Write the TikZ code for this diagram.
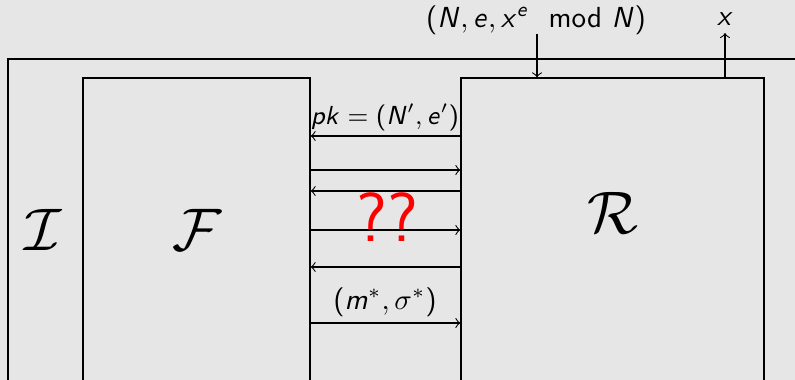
\documentclass[tikz,border=0pt]{standalone}
\usepackage{amsmath}
\usetikzlibrary{fit}
\DeclareSymbolFont{sfit}{OT1}{cmss}{m}{sl}
\DeclareSymbolFont{operators}{OT1}{cmss}{m}{n}
\DeclareMathSymbol{N}{\mathalpha}{sfit}{`N}
\DeclareMathSymbol{e}{\mathalpha}{sfit}{`e}
\DeclareMathSymbol{x}{\mathalpha}{sfit}{`x}
\DeclareMathSymbol{p}{\mathalpha}{sfit}{`p}
\DeclareMathSymbol{k}{\mathalpha}{sfit}{`k}
\DeclareMathSymbol{m}{\mathalpha}{sfit}{`m}
\definecolor{bg}{RGB}{230,230,230}
\tikzset{
  boxframe/.style={draw, inner sep=0pt},
  lbl/.style={inner sep=1pt, font=\fontsize{9.6}{11}\selectfont},
  biglbl/.style={inner sep=0pt, font=\fontsize{20.5}{25}\selectfont},
}
\begin{document}
\begin{tikzpicture}[x=0.345pt,y=-0.345pt, line width=0.37pt, >=to]
\fill[bg] (0,0) rectangle (795,380);
\useasboundingbox (0,0) rectangle (795,380);
\begin{scope}
\clip (0,0) rectangle (795,380);
\node[boxframe, fit={(8,59) (830,420)}] (I) {};
\node[boxframe, fit={(83,78) (310,420)}] (F) {};
\node[boxframe, fit={(461,78) (764,420)}] (R) {};
\end{scope}
\node[biglbl] (Il) at (43,230) {$\mathcal{I}$};
\node[biglbl] (Fl) at (197,230) {$\mathcal{F}$};
\node[biglbl] (Rl) at (613,213) {$\mathcal{R}$};
% levels
\coordinate (l1) at (385,136);
\coordinate (l2) at (385,170);
\coordinate (l3) at (385,191);
\coordinate (l4) at (385,230);
\coordinate (l5) at (385,267);
\coordinate (l6) at (385,323);
\draw[->] (R.west |- l1) -- (F.east |- l1);
\draw[->] (F.east |- l2) -- (R.west |- l2);
\draw[->] (R.west |- l3) -- (F.east |- l3);
\draw[->] (F.east |- l4) -- (R.west |- l4);
\draw[->] (R.west |- l5) -- (F.east |- l5);
\draw[->] (F.east |- l6) -- (R.west |- l6);
\node[lbl, font=\fontsize{9}{11}\selectfont] (pk) at (385,117) {$pk=(N',e')$};
\node[lbl] (ms) at (385,302) {$(m^*,\sigma^*)$};
\node[biglbl, text=red, font=\fontsize{24}{28}\sffamily] (qq) at (387,217) {??};
\node[lbl] (top) at (536,20) {$(N,e,x^e \mod N)$};
\coordinate (inp) at (537,34);
\draw[->] (inp) -- (R.north -| inp);
\node[lbl] (xl) at (725,19) {$x$};
\coordinate (outp) at (725,33);
\draw[->] (R.north -| outp) -- (outp);
\end{tikzpicture}
\end{document}
